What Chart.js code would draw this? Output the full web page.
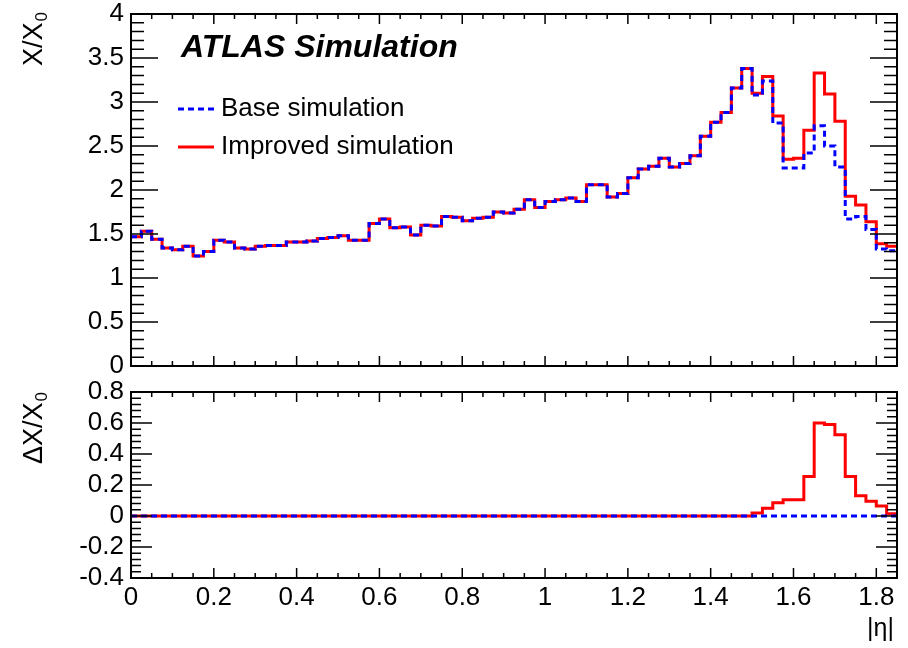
<!DOCTYPE html>
<html>
<head>
<meta charset="utf-8">
<script src="https://cdn.jsdelivr.net/npm/chart.js@4.4.1/dist/chart.umd.min.js"></script>
<style>
    html, body { margin: 0; padding: 0; background: #fff; }
    #wrap { position: relative; width: 908px; height: 648px; overflow: hidden; }
    #topChart { position: absolute; left: 0; top: 0; }
    #bottomChart { position: absolute; left: 0; top: 380px; }
</style>
</head>
<body>
<div id="wrap">
    <canvas id="topChart" width="908" height="380" style="width:908px;height:380px"></canvas>
    <canvas id="bottomChart" width="908" height="268" style="width:908px;height:268px"></canvas>
</div>
<script>
// Binning in |eta|
const binWidth = 0.025;
const etaMax = 1.85;

// X/X0 per bin
const baseX0 = [
    1.47, 1.53, 1.44, 1.34, 1.32, 1.36, 1.25, 1.30, 1.43, 1.41,
    1.34, 1.33, 1.36, 1.37, 1.37, 1.41, 1.41, 1.42, 1.45, 1.46,
    1.48, 1.43, 1.43, 1.62, 1.67, 1.57, 1.58, 1.49, 1.60, 1.59,
    1.70, 1.69, 1.65, 1.68, 1.69, 1.75, 1.74, 1.78, 1.89, 1.80,
    1.87, 1.89, 1.91, 1.87, 2.06, 2.06, 1.92, 1.96, 2.14, 2.24,
    2.27, 2.36, 2.26, 2.30, 2.39, 2.61, 2.77, 2.88, 3.16, 3.38,
    3.08, 3.24, 2.76, 2.25, 2.25, 2.42, 2.73, 2.50, 2.26, 1.67,
    1.70, 1.55, 1.33, 1.31
];
const improvedX0 = [
    1.47, 1.53, 1.44, 1.34, 1.32, 1.36, 1.25, 1.30, 1.43, 1.41,
    1.34, 1.33, 1.36, 1.37, 1.37, 1.41, 1.41, 1.42, 1.45, 1.46,
    1.48, 1.43, 1.43, 1.62, 1.67, 1.57, 1.58, 1.49, 1.60, 1.59,
    1.70, 1.69, 1.65, 1.68, 1.69, 1.75, 1.74, 1.78, 1.89, 1.80,
    1.87, 1.89, 1.91, 1.87, 2.06, 2.06, 1.92, 1.96, 2.14, 2.24,
    2.27, 2.36, 2.26, 2.30, 2.39, 2.61, 2.77, 2.88, 3.16, 3.38,
    3.10, 3.29, 2.84, 2.35, 2.36, 2.68, 3.33, 3.09, 2.78, 1.93,
    1.83, 1.64, 1.39, 1.36
];

// Difference with respect to the base simulation
const deltaBase = [
    0, 0, 0, 0, 0, 0, 0, 0, 0, 0,
    0, 0, 0, 0, 0, 0, 0, 0, 0, 0,
    0, 0, 0, 0, 0, 0, 0, 0, 0, 0,
    0, 0, 0, 0, 0, 0, 0, 0, 0, 0,
    0, 0, 0, 0, 0, 0, 0, 0, 0, 0,
    0, 0, 0, 0, 0, 0, 0, 0, 0, 0,
    0, 0, 0, 0, 0, 0, 0, 0, 0, 0,
    0, 0, 0, 0
];
const deltaImproved = [
    0, 0, 0, 0, 0, 0, 0, 0, 0, 0,
    0, 0, 0, 0, 0, 0, 0, 0, 0, 0,
    0, 0, 0, 0, 0, 0, 0, 0, 0, 0,
    0, 0, 0, 0, 0, 0, 0, 0, 0, 0,
    0, 0, 0, 0, 0, 0, 0, 0, 0, 0,
    0, 0, 0, 0, 0, 0, 0, 0, 0, 0,
    0.02, 0.05, 0.085, 0.105, 0.105, 0.255, 0.60, 0.59, 0.525, 0.255,
    0.13, 0.095, 0.065, 0.015
];

// Tick labels
const etaTicks = [0, 0.2, 0.4, 0.6, 0.8, 1, 1.2, 1.4, 1.6, 1.8];
const etaLabels = ["0", "0.2", "0.4", "0.6", "0.8", "1", "1.2", "1.4", "1.6", "1.8"];
const x0Ticks = [0, 0.5, 1, 1.5, 2, 2.5, 3, 3.5, 4];
const x0Labels = ["0", "0.5", "1", "1.5", "2", "2.5", "3", "3.5", "4"];
const deltaTicks = [-0.4, -0.2, 0, 0.2, 0.4, 0.6, 0.8];
const deltaLabels = ["-0.4", "-0.2", "0", "0.2", "0.4", "0.6", "0.8"];

const seriesNames = ["Base simulation", "Improved simulation"];
const BLUE = "#0000ff";
const RED = "#ff0000";
const FONT = "'Liberation Sans', Arial, Helvetica, sans-serif";

Chart.defaults.font.family = FONT;
Chart.defaults.color = "#000";

// histogram -> stepped line points (left edges + closing point)
function histPoints(values) {
    const pts = values.map((v, i) => ({ x: i * binWidth, y: v }));
    pts.push({ x: etaMax, y: values[values.length - 1] });
    return pts;
}

// frame with inward major/minor ticks on all four sides (ROOT style)
const rootFrame = {
    id: "rootFrame",
    afterDatasetsDraw(chart, args, opts) {
        const ctx = chart.ctx;
        const a = chart.chartArea;
        const xs = chart.scales.x;
        const ys = chart.scales.y;
        ctx.save();
        ctx.strokeStyle = "#000";
        ctx.lineWidth = 1.5;
        ctx.beginPath();
        const nx = Math.round((xs.max - xs.min) / opts.xStep);
        for (let k = 0; k <= nx; k++) {
            const px = xs.getPixelForValue(xs.min + k * opts.xStep);
            const len = k % opts.xEvery === 0 ? opts.xMajor : opts.xMinor;
            ctx.moveTo(px, a.bottom); ctx.lineTo(px, a.bottom - len);
            ctx.moveTo(px, a.top); ctx.lineTo(px, a.top + len);
        }
        const ny = Math.round((ys.max - ys.min) / opts.yStep);
        for (let k = 0; k <= ny; k++) {
            const py = ys.getPixelForValue(ys.min + k * opts.yStep);
            const len = k % opts.yEvery === 0 ? opts.yMajor : opts.yMinor;
            ctx.moveTo(a.left, py); ctx.lineTo(a.left + len, py);
            ctx.moveTo(a.right, py); ctx.lineTo(a.right - len, py);
        }
        ctx.stroke();
        ctx.lineWidth = 2;
        ctx.strokeRect(a.left, a.top, a.right - a.left, a.bottom - a.top);
        ctx.restore();
    }
};

// rotated y title with subscript 0, ending at yTop
function drawYTitle(ctx, main, x, yTop) {
    ctx.save();
    ctx.translate(x, yTop);
    ctx.rotate(-Math.PI / 2);
    ctx.fillStyle = "#000";
    ctx.textBaseline = "alphabetic";
    ctx.font = "27px " + FONT;
    const w1 = ctx.measureText(main).width;
    ctx.font = "17px " + FONT;
    const w2 = ctx.measureText("0").width;
    const start = -(w1 + w2 + 1);
    ctx.font = "27px " + FONT;
    ctx.textAlign = "left";
    ctx.fillText(main, start, 0);
    ctx.font = "17px " + FONT;
    ctx.fillText("0", start + w1 + 1, 5);
    ctx.restore();
}

const topTexts = {
    id: "topTexts",
    afterDraw(chart) {
        const ctx = chart.ctx;
        ctx.save();
        ctx.fillStyle = "#000";
        ctx.font = "italic bold 32px " + FONT;
        ctx.textAlign = "left";
        ctx.textBaseline = "alphabetic";
        ctx.fillText("ATLAS Simulation", 181, 57);

        // legend
        const rows = [
            { y: 109, color: BLUE, dash: [6, 4], text: seriesNames[0] },
            { y: 147, color: RED, dash: [], text: seriesNames[1] }
        ];
        rows.forEach(r => {
            ctx.beginPath();
            ctx.strokeStyle = r.color;
            ctx.lineWidth = 3;
            ctx.setLineDash(r.dash);
            ctx.moveTo(178, r.y);
            ctx.lineTo(214, r.y);
            ctx.stroke();
            ctx.setLineDash([]);
            ctx.font = "26px " + FONT;
            ctx.textBaseline = "middle";
            ctx.fillText(r.text, 221, r.y);
        });
        drawYTitle(ctx, "X/X", 42, 12);
        ctx.restore();
    }
};

const bottomTexts = {
    id: "bottomTexts",
    afterDraw(chart) {
        const ctx = chart.ctx;
        ctx.save();
        drawYTitle(ctx, "\u0394X/X", 42, 12);
        ctx.fillStyle = "#000";
        ctx.font = "25px " + FONT;
        ctx.textAlign = "right";
        ctx.textBaseline = "alphabetic";
        ctx.fillText("|\u03b7|", 894, 256);
        ctx.restore();
    }
};

function lineDataset(label, values, color, dash) {
    return {
        label: label,
        data: histPoints(values),
        borderColor: color,
        backgroundColor: color,
        borderWidth: 3,
        borderDash: dash,
        stepped: true,
        pointRadius: 0,
        fill: false,
        tension: 0
    };
}

function makeOptions(yMin, yMax, yTicks, yLabels, xHeight, padTop, frameOpts, showX) {
    return {
        responsive: false,
        animation: false,
        events: [],
        layout: { padding: { top: padTop, right: 11, left: 0, bottom: 0 } },
        plugins: {
            legend: { display: false },
            tooltip: { enabled: false },
            rootFrame: frameOpts
        },
        scales: {
            x: {
                type: "linear",
                min: 0,
                max: etaMax,
                grid: { display: false, drawTicks: false },
                border: { display: false },
                afterBuildTicks: s => { s.ticks = etaTicks.map(v => ({ value: v })); },
                afterFit: s => { s.height = xHeight; s.paddingLeft = 0; s.paddingRight = 0; },
                ticks: {
                    display: showX,
                    autoSkip: false,
                    maxRotation: 0,
                    padding: 4,
                    font: { size: 26 },
                    callback: (v, i) => etaLabels[i]
                }
            },
            y: {
                type: "linear",
                min: yMin,
                max: yMax,
                grid: { display: false, drawTicks: false },
                border: { display: false },
                afterBuildTicks: s => { s.ticks = yTicks.map(v => ({ value: v })); },
                afterFit: s => { s.width = 131; s.paddingTop = 0; s.paddingBottom = 0; },
                ticks: {
                    autoSkip: false,
                    padding: 7,
                    font: { size: 26 },
                    callback: (v, i) => yLabels[i]
                }
            }
        }
    };
}

new Chart(document.getElementById("topChart").getContext("2d"), {
    type: "line",
    data: {
        datasets: [
            lineDataset(seriesNames[0], baseX0, BLUE, [6, 4]),
            lineDataset(seriesNames[1], improvedX0, RED, [])
        ]
    },
    options: makeOptions(0, 4, x0Ticks, x0Labels, 14, 14,
        { xStep: 0.05, xEvery: 4, xMajor: 10, xMinor: 5, yStep: 0.1, yEvery: 5, yMajor: 27, yMinor: 13 }, false),
    plugins: [rootFrame, topTexts]
});

new Chart(document.getElementById("bottomChart").getContext("2d"), {
    type: "line",
    data: {
        datasets: [
            lineDataset(seriesNames[0], deltaBase, BLUE, [6, 4]),
            lineDataset(seriesNames[1], deltaImproved, RED, [])
        ]
    },
    options: makeOptions(-0.4, 0.8, deltaTicks, deltaLabels, 70, 12,
        { xStep: 0.05, xEvery: 4, xMajor: 10, xMinor: 5, yStep: 0.04, yEvery: 5, yMajor: 21, yMinor: 10 }, true),
    plugins: [rootFrame, bottomTexts]
});
</script>
</body>
</html>
